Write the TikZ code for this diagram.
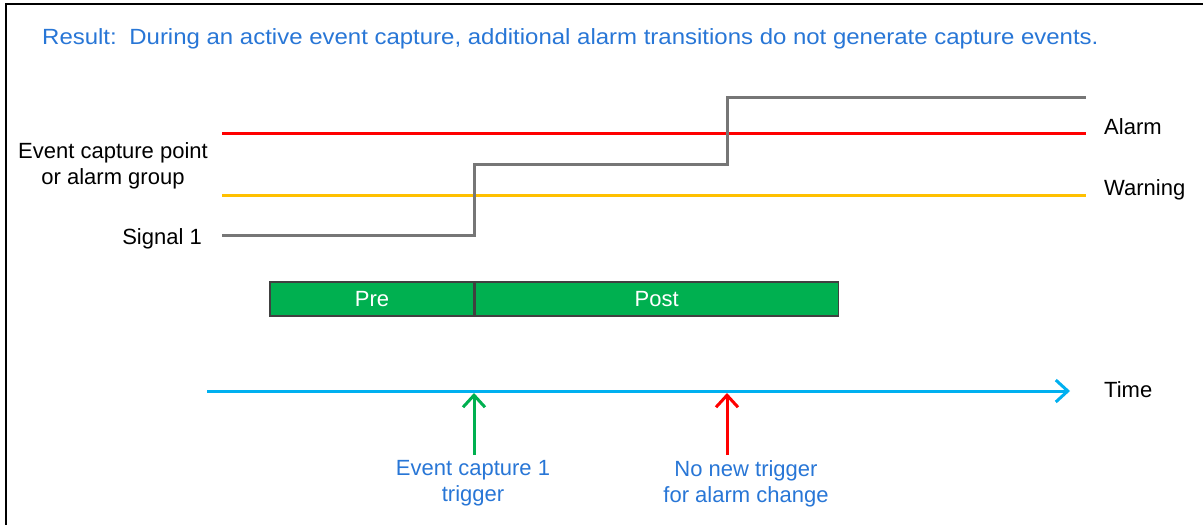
\documentclass[tikz,border=0pt]{standalone}
\usepackage{fontspec}
\setmainfont{Liberation Sans}
\newfontfamily\ectitlefont[FakeStretch=1.09]{Liberation Sans}
\usetikzlibrary{arrows.meta}
\definecolor{ecblue}{RGB}{40,118,214}
\definecolor{ecgreen}{RGB}{0,176,80}
\definecolor{ecred}{RGB}{255,0,0}
\definecolor{ecamber}{RGB}{255,192,0}
\definecolor{ecgrey}{RGB}{118,118,118}
\definecolor{eccyan}{RGB}{0,176,240}
\definecolor{ecedge}{RGB}{64,64,64}
\tikzset{
  ec sheet/.style={
    x=1pt,
    y=1pt,
    line cap=butt,
    line join=miter
  },
  ec level/.style={
    line width=3pt
  },
  ec label/.style={
    font=\fontsize{22}{26}\selectfont,
    inner sep=0pt,
    align=center
  },
  ec note/.style={
    ec label,
    text=ecblue
  },
  ec phase/.style={
    draw=ecedge,
    fill=ecgreen,
    line width=1.2pt,
    text=white,
    font=\fontsize{22}{26}\selectfont,
    minimum height=34pt,
    inner sep=0pt
  },
  ec tip/.style={
    -{Straight Barb[length=12pt,width=22pt,line width=3pt]},
    line width=3pt
  }
}

\begin{document}
\begin{tikzpicture}[ec sheet]
  \useasboundingbox (0,0) rectangle (1203,-525);
  \draw[line width=2pt] (6,-525) -- (6,-4) -- (1203,-4);

  \node[ec note, font=\ectitlefont\fontsize{22}{26}\selectfont, anchor=base west] (result) at (42,-44)
    {Result:\, During an active event capture, additional alarm transitions do not generate capture events.};

  % levels
  \coordinate (lvl0) at (222,-133);
  \coordinate (lvl1) at (1086,-133);
  \coordinate (wrn0) at (222,-195);
  \coordinate (wrn1) at (1086,-195);
  \draw[ec level, ecred] (lvl0) -- (lvl1);
  \draw[ec level, ecamber] (wrn0) -- (wrn1);
  \node[ec label, anchor=base west] (alarm) at (1104,-134.5) {Alarm};
  \node[ec label, anchor=base west] (warning) at (1104,-195.5) {Warning};
  \node[ec label, anchor=north] (group) at (113,-142) {Event capture point\\or alarm group};

  % signal
  \coordinate (sig0) at (222,-235);
  \coordinate (step1) at (474,-164);
  \coordinate (step2) at (727,-97);
  \coordinate (sig1) at (1086,-97);
  \draw[ec level, ecgrey] (sig0) -| (step1) -| (step2) -- (sig1);
  \node[ec label, anchor=base east] (signal) at (202,-244.5) {Signal 1};

  % capture window
  \node[ec phase, minimum width=204pt] (pre) at (372,-299) {Pre};
  \node[ec phase, minimum width=363pt, anchor=west] (post) at (pre.east) {Post};

  % time axis
  \coordinate (t0) at (207,-391);
  \coordinate (t1) at (1070,-391);
  \draw[ec tip, eccyan] (t0) -- (t1);
  \node[ec label, anchor=base west] (time) at (1104,-397.5) {Time};

  \coordinate (trig1) at (474,-393);
  \coordinate (trig2) at (727,-393);
  \node[ec note, anchor=north] (capnote) at (473,-460) {Event capture 1\\trigger};
  \node[ec note, anchor=north] (nonote) at (746,-460) {No new trigger\\for alarm change};
  \draw[ec tip, ecgreen] ([yshift=5pt]capnote.north -| trig1) -- (trig1);
  \draw[ec tip, ecred] ([yshift=5pt]nonote.north -| trig2) -- (trig2);
\end{tikzpicture}
\end{document}
